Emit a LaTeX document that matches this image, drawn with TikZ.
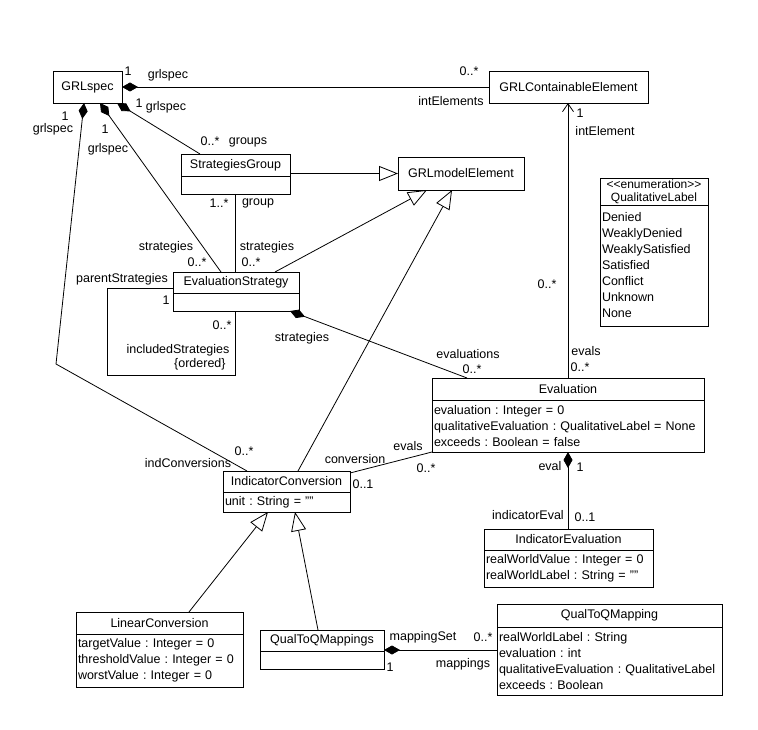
\documentclass[tikz,border=0pt]{standalone}
\usepackage{fontspec}
\setmainfont{Liberation Sans}
\usetikzlibrary{arrows.meta}

\tikzset{
  classbox/.style={draw, anchor=north west, inner sep=0pt, outer sep=0pt, align=center},
  attrbox/.style={draw, anchor=north west, inner xsep=2pt, inner ysep=0pt, outer sep=0pt, align=left},
  lbl/.style={inner sep=0pt},
  comp/.style={arrows={Diamond[length=16pt,width=9pt]-}},
  gen/.style={arrows={-Triangle[open,length=19pt,width=15pt]}},
  nav/.style={arrows={-Straight Barb[length=8pt,width=11pt]}},
}

\begin{document}
\frenchspacing
\begin{tikzpicture}[x=1pt, y=-1pt, line width=0.8pt, font=\fontsize{12.5}{16}\selectfont]
    \useasboundingbox (0,0) rectangle (758,730);

    % Draw the class boxes
    \node[classbox, minimum width=69pt, minimum height=32pt] (grlspec) at (53,71) {GRLspec};
    \node[classbox, minimum width=159pt, minimum height=32pt] (gce) at (489,71) {GRLContainableElement};
    \node[classbox, minimum width=126pt, minimum height=33pt] (gme) at (398,157) {GRLmodelElement};

    \node[classbox, minimum width=109pt, minimum height=22pt] (sghead) at (181,154) {StrategiesGroup};
    \node[attrbox, text width=105pt, minimum height=18pt] (sgbody) at (sghead.south west) {};

    \node[classbox, minimum width=126pt, minimum height=21pt] (esthead) at (173,272) {EvaluationStrategy};
    \node[attrbox, text width=122pt, minimum height=18pt] (estbody) at (esthead.south west) {};

    \node[classbox, minimum width=108pt, minimum height=27pt, font=\fontsize{12}{13}\selectfont] (qlhead) at (600,178) {<\kern0pt<enumeration>\kern0pt>\\QualitativeLabel};
    \node[attrbox, text width=104pt, minimum height=121pt] (qlbody) at (qlhead.south west) {Denied\\WeaklyDenied\\WeaklySatisfied\\Satisfied\\Conflict\\Unknown\\None};

    \node[classbox, minimum width=272pt, minimum height=22pt] (evalhead) at (432,378) {Evaluation};
    \node[attrbox, text width=268pt, minimum height=52pt] (evalbody) at (evalhead.south west) {evaluation : Integer = 0\\qualitativeEvaluation : QualitativeLabel = None\\exceeds : Boolean = false};

    \node[classbox, minimum width=127pt, minimum height=21pt] (ichead) at (223,471) {IndicatorConversion};
    \node[attrbox, text width=123pt, minimum height=20pt] (icbody) at (ichead.south west) {unit : String = ""};

    \node[classbox, minimum width=169pt, minimum height=21pt] (iehead) at (484,529) {IndicatorEvaluation};
    \node[attrbox, text width=165pt, minimum height=37pt] (iebody) at (iehead.south west) {realWorldValue : Integer = 0\\realWorldLabel : String = ""};

    \node[classbox, minimum width=167pt, minimum height=22pt] (lchead) at (76,612) {LinearConversion};
    \node[attrbox, text width=163pt, minimum height=53pt] (lcbody) at (lchead.south west) {targetValue : Integer = 0\\thresholdValue : Integer = 0\\worstValue : Integer = 0};

    \node[classbox, minimum width=124pt, minimum height=21pt] (qshead) at (260,630) {QualToQMappings};
    \node[attrbox, text width=120pt, minimum height=18pt] (qsbody) at (qshead.south west) {};

    \node[classbox, minimum width=225pt, minimum height=23pt] (qmhead) at (497,604) {QualToQMapping};
    \node[attrbox, text width=221pt, minimum height=68pt] (qmbody) at (qmhead.south west) {realWorldLabel : String\\evaluation : int\\qualitativeEvaluation : QualitativeLabel\\exceeds : Boolean};

    % Draw compositions from GRLspec
    \coordinate (bend) at (56,364);
    \draw[comp] (grlspec.east) -- (gce.west);
    \draw[comp] ([xshift=-5pt]grlspec.south east) -- ([xshift=19pt]sghead.north west);
    \draw[comp] ([xshift=-22pt]grlspec.south east) -- ([xshift=48pt]esthead.north west);
    \draw[comp] ([xshift=31pt]grlspec.south west) -- (bend) -- ([xshift=24pt]ichead.north west);

    % Draw generalizations
    \draw[gen] (gme.west -| sghead.east) -- (gme.west);
    \draw[gen] ([xshift=102pt]esthead.north west) -- ([xshift=29pt]gme.south west);
    \draw[gen] ([xshift=75pt]ichead.north west) -- ([xshift=54pt]gme.south west);
    \draw[gen] ([xshift=113pt]lchead.north west) -- ([xshift=45pt]icbody.south west);
    \draw[gen] ([xshift=58pt]qshead.north west) -- ([xshift=72pt]icbody.south west);

    % Draw the other associations
    \draw (sgbody.south) -- (sgbody.south |- esthead.north);
    \draw ([yshift=-6pt]esthead.west) -- ++(-66,0) |- ([xshift=-1pt,yshift=-64pt]estbody.south) -- ([xshift=-1pt]estbody.south);
    \draw[comp] ([xshift=-9pt]estbody.south east) -- ([xshift=35pt]evalhead.north west);
    \draw[nav] (evalhead.north) -- (evalhead.north |- gce.south);
    \draw ([yshift=-2pt]ichead.north east) -- (evalbody.south west);
    \draw[comp] (evalbody.south) -- (evalbody.south |- iehead.north);
    \draw[comp] ([yshift=1pt]qshead.south east) -- ([yshift=1pt]qshead.south east -| qmbody.west);

    % Role names and multiplicities
    \node[lbl] (m1) at (128,71) {1};
    \node[lbl] (r1) at (168,75) {grlspec};
    \node[lbl] (m2) at (469,71) {0..*};
    \node[lbl] (r2) at (451,101) {intElements};
    \node[lbl] (m3) at (139,103) {1};
    \node[lbl] (r3) at (166,107) {grlspec};
    \node[lbl] (m4) at (210,141) {0..*};
    \node[lbl] (r4) at (248,142) {groups};
    \node[lbl] (m5) at (65,116) {1};
    \node[lbl] (r5) at (53,129) {grlspec};
    \node[lbl] (m6) at (105,129) {1};
    \node[lbl] (r6) at (108,149) {grlspec};
    \node[lbl] (m7) at (219,203) {1..*};
    \node[lbl] (r7) at (258,203) {group};
    \node[lbl] (r8) at (166,247) {strategies};
    \node[lbl] (m8) at (197,262) {0..*};
    \node[lbl] (r9) at (267,247) {strategies};
    \node[lbl] (m9) at (251,262) {0..*};
    \node[lbl] (r10) at (122,279) {parentStrategies};
    \node[lbl] (m10) at (166,300) {1};
    \node[lbl] (m11) at (222,325) {0..*};
    \node[lbl] (r11) at (178,350) {includedStrategies};
    \node[lbl, anchor=east] (r12) at (226,364) {\{ordered\}};
    \node[lbl] (r13) at (302,338) {strategies};
    \node[lbl] (m12) at (580,113) {1};
    \node[lbl] (r14) at (605,131) {intElement};
    \node[lbl] (m13) at (547,284) {0..*};
    \node[lbl] (r15) at (468,354) {evaluations};
    \node[lbl] (m14) at (472,369) {0..*};
    \node[lbl] (r16) at (586,351) {evals};
    \node[lbl] (m15) at (580,367) {0..*};
    \node[lbl] (m16) at (244,451) {0..*};
    \node[lbl] (r17) at (188,463) {indConversions};
    \node[lbl] (r18) at (355,459) {conversion};
    \node[lbl] (m17) at (363,484) {0..1};
    \node[lbl] (r19) at (408,446) {evals};
    \node[lbl] (m18) at (426,468) {0..*};
    \node[lbl] (r20) at (550,466) {eval};
    \node[lbl] (m19) at (580,467) {1};
    \node[lbl] (r21) at (528,515) {indicatorEval};
    \node[lbl] (m20) at (585,517) {0..1};
    \node[lbl] (r22) at (423,637) {mappingSet};
    \node[lbl] (m21) at (483,637) {0..*};
    \node[lbl] (m22) at (390,667) {1};
    \node[lbl] (r23) at (463,664) {mappings};
\end{tikzpicture}
\end{document}
